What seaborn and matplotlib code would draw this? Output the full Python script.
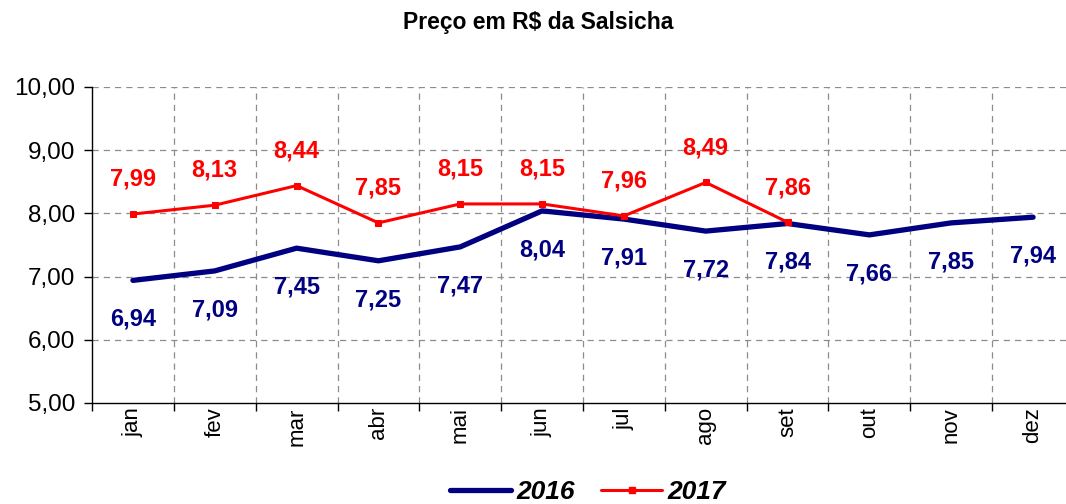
import matplotlib
matplotlib.use("Agg")
import matplotlib.pyplot as plt
import seaborn as sns
import pandas as pd
import numpy as np
from matplotlib.lines import Line2D

months = ["jan", "fev", "mar", "abr", "mai", "jun", "jul", "ago", "set", "out", "nov", "dez"]
v2016 = [6.94, 7.09, 7.45, 7.25, 7.47, 8.04, 7.91, 7.72, 7.84, 7.66, 7.85, 7.94]
v2017 = [7.99, 8.13, 8.44, 7.85, 8.15, 8.15, 7.96, 8.49, 7.86]

sns.set_theme(style="white")
plt.rcParams['font.family'] = ['Liberation Sans', 'DejaVu Sans']
plt.rcParams['text.color'] = 'black'
plt.rcParams['xtick.color'] = 'black'
plt.rcParams['ytick.color'] = 'black'

df16 = pd.DataFrame({"x": np.arange(len(v2016)), "y": v2016})
df17 = pd.DataFrame({"x": np.arange(len(v2017)), "y": v2017})

fig = plt.figure(figsize=(10.66, 5.04), dpi=100)
ax = fig.add_axes([92/1066, 1-403/504, (1074-92)/1066, (403-87)/504])

c16 = "#000080"
c17 = "#FF0000"
sns.lineplot(data=df16, x="x", y="y", ax=ax, color=c16, linewidth=3.8, solid_capstyle="round")
sns.lineplot(data=df17, x="x", y="y", ax=ax, color=c17, linewidth=2.2, marker="s", markersize=5,
             markeredgecolor=c17)

ax.set_xlim(-0.5, 11.5)
ax.set_ylim(5, 10)
ax.set_yticks([5, 6, 7, 8, 9, 10])
ax.set_yticklabels([f"{v:.2f}".replace(".", ",") for v in [5, 6, 7, 8, 9, 10]], fontsize=17.5)
ax.set_xticks(np.arange(12))
ax.set_xticklabels(months, rotation=90, fontsize=16)
ax.tick_params(axis="x", which="major", length=0, pad=3)
ax.set_xticks(np.arange(-0.5, 12, 1), minor=True)
ax.tick_params(axis="x", which="minor", length=6, width=1, color="black", direction="out", bottom=True)
ax.tick_params(axis="y", length=6, width=1, color="black", direction="out", left=True, pad=6)
ax.set_xlabel("")
ax.set_ylabel("")

ax.grid(False)
for y in [6, 7, 8, 9, 10]:
    ax.axhline(y, color="#8c8c8c", linestyle=(0, (5, 4)), linewidth=0.9, zorder=0)
for x in np.arange(0.5, 11.5, 1):
    ax.axvline(x, color="#8c8c8c", linestyle=(0, (5, 4)), linewidth=0.9, zorder=0)

for s in ["top", "right"]:
    ax.spines[s].set_visible(False)
for s in ["left", "bottom"]:
    ax.spines[s].set_color("black")
    ax.spines[s].set_linewidth(1)

for i, v in enumerate(v2017):
    ax.annotate(f"{v:.2f}".replace(".", ","), (i, v), xytext=(0, 25), textcoords="offset points",
                ha="center", va="center", fontsize=17, fontweight="bold", color=c17)
for i, v in enumerate(v2016):
    ax.annotate(f"{v:.2f}".replace(".", ","), (i, v), xytext=(0, -28), textcoords="offset points",
                ha="center", va="center", fontsize=17, fontweight="bold", color=c16)

fig.text(538/1066, 1-23/504, "Preço em R$ da Salsicha", ha="center", va="center", fontsize=16.5,
         fontweight="bold", color="black")

handles = [Line2D([], [], color=c16, linewidth=3.8, solid_capstyle="round"),
           Line2D([], [], color=c17, linewidth=2.2, marker="s", markersize=5)]
leg = fig.legend(handles, ["2016", "2017"], loc="center", bbox_to_anchor=(588/1066, 1-492/504), ncol=2,
                 frameon=False, handlelength=2.3, columnspacing=1.0, handletextpad=0.2,
                 prop={"size": 19, "weight": "bold", "style": "italic"})
for t in leg.get_texts():
    t.set_color("black")

fig.savefig("out.png", dpi=100)
